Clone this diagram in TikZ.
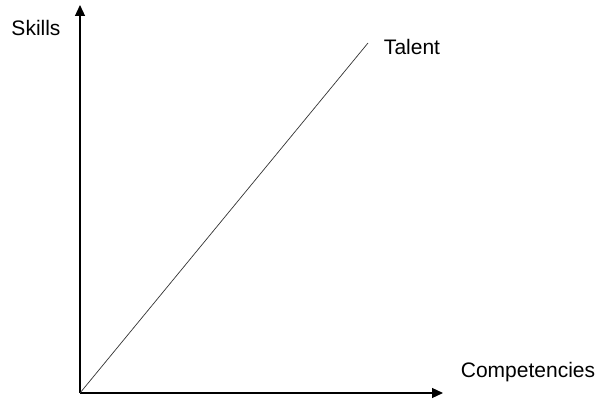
\documentclass[tikz,border=0pt]{standalone}
\usepackage{fontspec}
\setmainfont{Liberation Sans}
\usetikzlibrary{arrows.meta}
\begin{document}
\begin{tikzpicture}[
  x=1pt, y=-1pt,
  axis/.style={line width=1.2pt, -{Triangle[length=11pt,width=10pt]}},
  label/.style={font=\fontsize{21}{24}\selectfont, inner sep=0pt},
  font=\small
]
\useasboundingbox (0,0) rectangle (598,401);
\coordinate (origin) at (80,393);
\coordinate (ytip) at (80,5);
\coordinate (xtip) at (443,393);
\coordinate (talentend) at (368,43);

\draw[axis] (origin) -- (ytip);
\draw[axis] (origin) -- (xtip);
\draw[line width=0.7pt, black!80] (origin) -- (talentend);

\node[label] (skills) at (36,28) {Skills};
\node[label] (talent) at (412,47) {Talent};
\node[label] (comp) at (528,372) {Competencies};
\end{tikzpicture}
\end{document}
